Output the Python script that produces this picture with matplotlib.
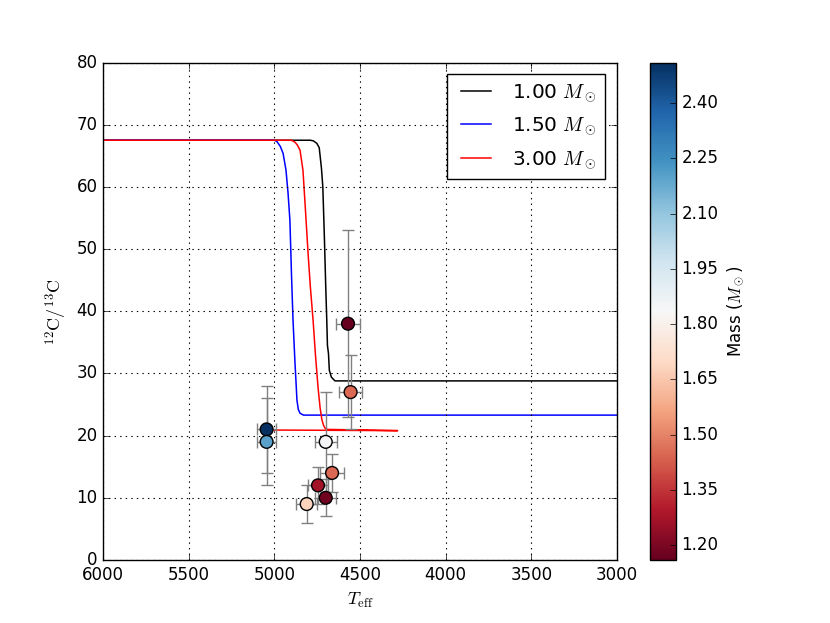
import matplotlib
matplotlib.use("Agg")
import matplotlib.pyplot as plt
import numpy as np

plt.style.use('classic')
plt.rcParams['mathtext.fontset'] = 'cm'
plt.rcParams['font.family'] = ['DejaVu Sans']

# Model tracks (Teff, 12C/13C)
t_100 = [6000, 4790, 4772, 4752, 4738, 4725, 4717, 4708, 4700, 4694, 4690, 4684, 4679, 4667, 4646, 3000]
r_100 = [67.5, 67.5, 67.4, 67.0, 66.3, 63.0, 60.0, 52.0, 44.0, 38.6, 34.5, 33.2, 30.5, 29.4, 28.8, 28.8]

t_150 = [6000, 5000, 4985, 4965, 4949, 4932, 4920, 4909, 4900, 4891, 4880, 4874, 4868, 4860, 4850, 4830, 3000]
r_150 = [67.5, 67.5, 67.3, 66.5, 65.4, 62.7, 59.0, 54.6, 46.0, 38.6, 32.0, 28.9, 25.7, 24.2, 23.6, 23.3, 23.3]

t_300 = [6000, 4900, 4880, 4865, 4850, 4833, 4820, 4803, 4790, 4774, 4760, 4745, 4733, 4722, 4712, 4704, 4690, 4280, 5000]
r_300 = [67.5, 67.5, 67.2, 66.7, 65.9, 62.7, 57.0, 49.3, 44.0, 38.6, 33.0, 27.8, 24.5, 22.5, 21.6, 21.2, 21.0, 20.8, 20.9]

track_labels = [r'1.00 $M_\odot$', r'1.50 $M_\odot$', r'3.00 $M_\odot$']
track_colors = ['black', 'blue', 'red']

# Observed stars
teff = [4570, 4555, 5045, 5045, 4700, 4663, 4745, 4700, 4811]
ratio = [38, 27, 21, 19, 19, 14, 12, 10, 9]
teff_err = [70, 65, 55, 55, 63, 68, 60, 60, 60]
ratio_err = [15, 6, 7, 7, 8, 3, 3, 3, 3]
mass = [1.16, 1.45, 2.51, 2.20, 1.85, 1.45, 1.27, 1.18, 1.68]

cbar_ticks = [1.20, 1.35, 1.50, 1.65, 1.80, 1.95, 2.10, 2.25, 2.40]

fig = plt.figure(figsize=(8.3, 6.23), dpi=100)
fig.patch.set_facecolor('white')
ax = fig.add_axes([103/830, 63/623, 514/830, 497.5/623])
cax = fig.add_axes([650/830, 63/623, 26/830, 497.5/623])

for t, r, c, lab in zip([t_100, t_150, t_300], [r_100, r_150, r_300], track_colors, track_labels):
    ax.plot(t, r, color=c, lw=1.1, label=lab)

ax.errorbar(teff, ratio, xerr=teff_err, yerr=ratio_err, fmt='none',
            ecolor='gray', elinewidth=1.0, capsize=4, capthick=1.0, zorder=3)
sc = ax.scatter(teff, ratio, c=mass, cmap='RdBu', vmin=min(mass), vmax=max(mass),
                s=85, edgecolors='black', linewidths=1.0, zorder=4)

ax.set_xlim(6000, 3000)
ax.set_ylim(0, 80)
ax.grid(True, color='black', linestyle=':', linewidth=0.8)
ax.set_xlabel(r'$T_{\rm eff}$', fontsize=13)
ax.set_ylabel(r'$^{12}\mathrm{C}/^{13}\mathrm{C}$', fontsize=13)
ax.tick_params(labelsize=12)
leg = ax.legend(loc='upper right', fontsize=14.4, handlelength=2.1, borderpad=0.4,
                labelspacing=0.6, handletextpad=0.75, numpoints=2, borderaxespad=0.6)
leg.get_frame().set_edgecolor('black')

cb = fig.colorbar(sc, cax=cax, ticks=cbar_ticks, format='%.2f')
cb.set_label(r'Mass ($M_\odot$)', fontsize=12)
cb.ax.tick_params(labelsize=12)

fig.savefig('out.png', dpi=100, facecolor='white')
